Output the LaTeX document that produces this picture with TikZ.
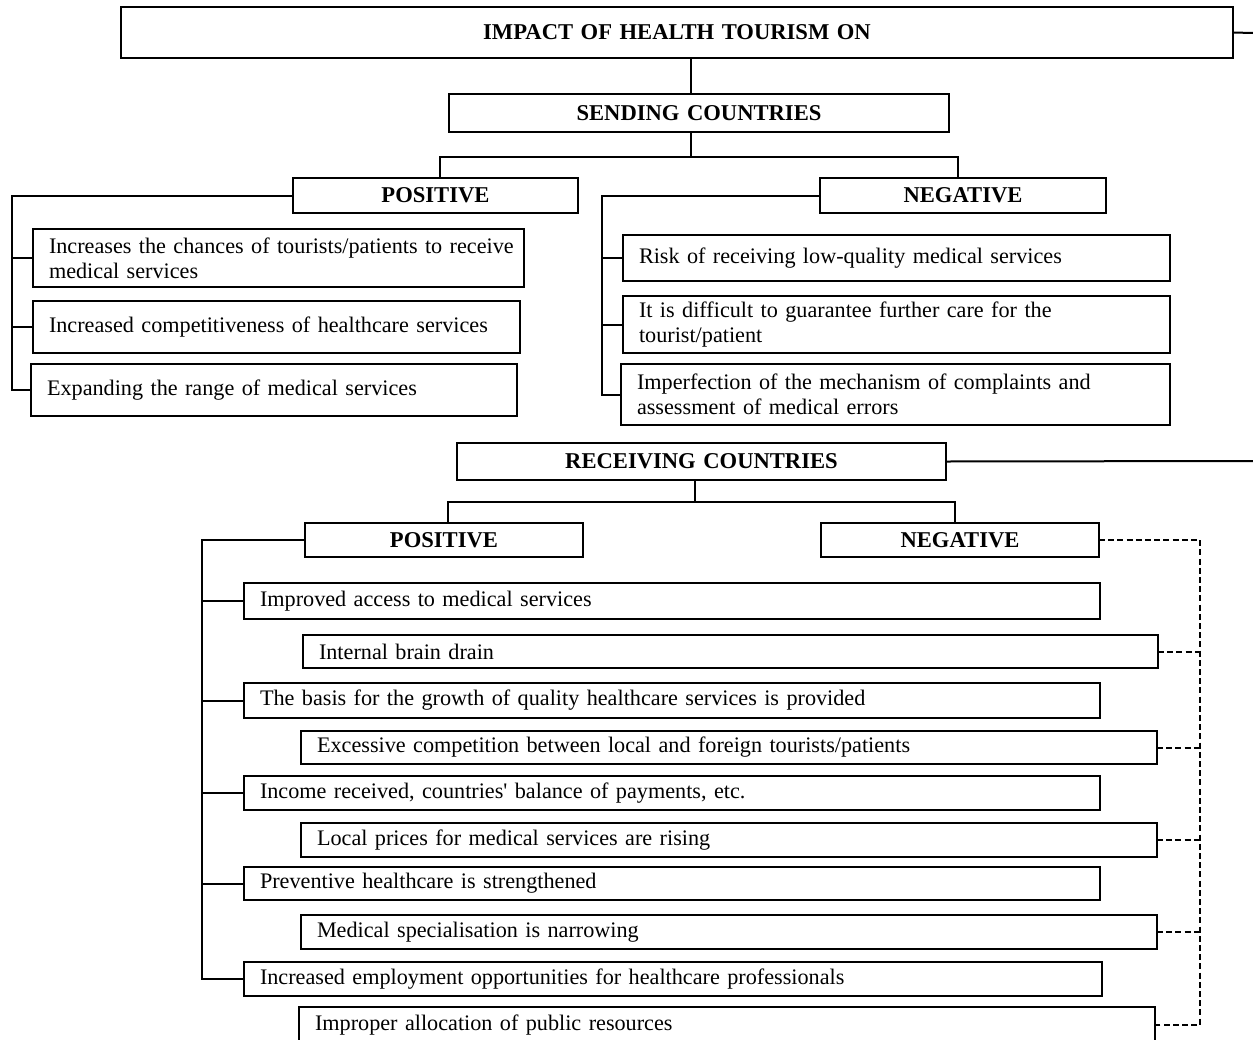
\documentclass[tikz,border=0pt]{standalone}
\usepackage{fontspec}
\setmainfont{Liberation Serif}
\usepackage{tikz}

\tikzset{
  kasten/.style={draw, line width=1pt, inner sep=0pt, outer sep=0pt, anchor=north west},
  titel/.style={kasten, font=\fontsize{11.3}{12.6}\selectfont\bfseries, align=center},
  punkt/.style={kasten, font=\fontsize{11.1}{12.6}\selectfont, align=left},
  linie/.style={line width=1pt},
  strich/.style={line width=1pt, dash pattern=on 3pt off 1.6pt}
}

% Kasten: Name, x1, y1, x2, y2, Stil, Text
\newcommand{\kasten}[7]{%
  \pgfmathsetmacro{\kbreite}{(#4-#2)/2}%
  \pgfmathsetmacro{\khoehe}{(#5-#3)/2}%
  \pgfmathsetmacro{\ktext}{(#4-#2)/2-16}%
  \node[#6, minimum width=\kbreite pt, minimum height=\khoehe pt, text width=\ktext pt] (#1) at (#2,#3) {#7};}

\begin{document}
\begin{tikzpicture}[x=0.5pt,y=-0.5pt]
\clip (0,0) rectangle (1253,1039);

% Kopf
\kasten{impact}{121}{7}{1233}{58}{titel}{IMPACT OF HEALTH TOURISM ON}
\coordinate (rand1) at (1253,33);
\draw[linie] (impact.east) -- (rand1);

% Sendelaender
\kasten{send}{449}{94}{949}{132}{titel}{SENDING COUNTRIES}
\coordinate (a1) at (691,157);
\draw[linie] (impact.south -| a1) -- (send.north -| a1);

\kasten{sendpos}{293}{178}{578}{213}{titel}{POSITIVE}
\kasten{sendneg}{820}{178}{1106}{213}{titel}{NEGATIVE}
\coordinate (a2) at (440,157);
\coordinate (a3) at (958,157);
\draw[linie] (send.south -| a1) -- (a1);
\draw[linie] (sendpos.north -| a2) -- (a2) -- (a3) -- (sendneg.north -| a3);

% Sendelaender positiv
\kasten{sp1}{33}{229}{524}{287}{punkt}{\mbox{Increases the chances of tourists/patients to receive}\\medical services}
\kasten{sp2}{33}{301}{520}{353}{punkt}{Increased competitiveness of healthcare services}
\kasten{sp3}{31}{364}{517}{416}{punkt}{Expanding the range of medical services}
\coordinate (lk1) at (12,0);
\draw[linie] (sendpos.west) -- (sendpos.west -| lk1) -- (sp3.west -| lk1) -- (sp3.west);
\foreach \k in {sp1,sp2}
  \draw[linie] (\k.west -| lk1) -- (\k.west);

% Sendelaender negativ
\kasten{sn1}{623}{235}{1170}{281}{punkt}{Risk of receiving low-quality medical services}
\kasten{sn2}{623}{296}{1170}{353}{punkt}{It is difficult to guarantee further care for the\\tourist/patient}
\kasten{sn3}{621}{364}{1170}{425}{punkt}{Imperfection of the mechanism of complaints and\\assessment of medical errors}
\coordinate (lk2) at (602,0);
\draw[linie] (sendneg.west) -- (sendneg.west -| lk2) -- (sn3.west -| lk2) -- (sn3.west);
\foreach \k in {sn1,sn2}
  \draw[linie] (\k.west -| lk2) -- (\k.west);

% Empfaengerlaender
\kasten{recv}{457}{443}{946}{480}{titel}{RECEIVING COUNTRIES}
\coordinate (rand2) at (1253,461);
\draw[linie] (recv.east) -- (rand2);

\kasten{recvpos}{305}{523}{583}{557}{titel}{POSITIVE}
\kasten{recvneg}{821}{523}{1099}{557}{titel}{NEGATIVE}
\coordinate (b1) at (695,502);
\coordinate (b2) at (448,502);
\coordinate (b3) at (955,502);
\draw[linie] (recv.south -| b1) -- (b1);
\draw[linie] (recvpos.north -| b2) -- (b2) -- (b3) -- (recvneg.north -| b3);

% positiv / negativ abwechselnd
\kasten{rp1}{244}{583}{1100}{619}{punkt}{Improved access to medical services}
\kasten{rn1}{303}{635}{1158}{668}{punkt}{Internal brain drain}
\kasten{rp2}{244}{683}{1100}{718}{punkt}{The basis for the growth of quality healthcare services is provided}
\kasten{rn2}{301}{731}{1157}{764}{punkt}{Excessive competition between local and foreign tourists/patients}
\kasten{rp3}{244}{776}{1100}{810}{punkt}{Income received, countries\textquotesingle\ balance of payments, etc.}
\kasten{rn3}{301}{823}{1157}{857}{punkt}{Local prices for medical services are rising}
\kasten{rp4}{244}{867}{1100}{900}{punkt}{Preventive healthcare is strengthened}
\kasten{rn4}{301}{915}{1157}{949}{punkt}{Medical specialisation is narrowing}
\kasten{rp5}{244}{962}{1102}{996}{punkt}{Increased employment opportunities for healthcare professionals}
\kasten{rn5}{299}{1007}{1155}{1043}{punkt}{Improper allocation of public resources}

% Klammer links
\coordinate (lk3) at (202,0);
\draw[linie] (recvpos.west) -- (recvpos.west -| lk3) -- (rp5.west -| lk3) -- (rp5.west);
\foreach \k in {rp1,rp2,rp3,rp4}
  \draw[linie] (\k.west -| lk3) -- (\k.west);

% Klammer rechts (gestrichelt)
\coordinate (rk) at (1200,0);
\draw[strich] (recvneg.east) -- (recvneg.east -| rk) -- (rn5.east -| rk) -- (rn5.east);
\foreach \k in {rn1,rn2,rn3,rn4}
  \draw[strich] (\k.east) -- (\k.east -| rk);

\end{tikzpicture}
\end{document}
